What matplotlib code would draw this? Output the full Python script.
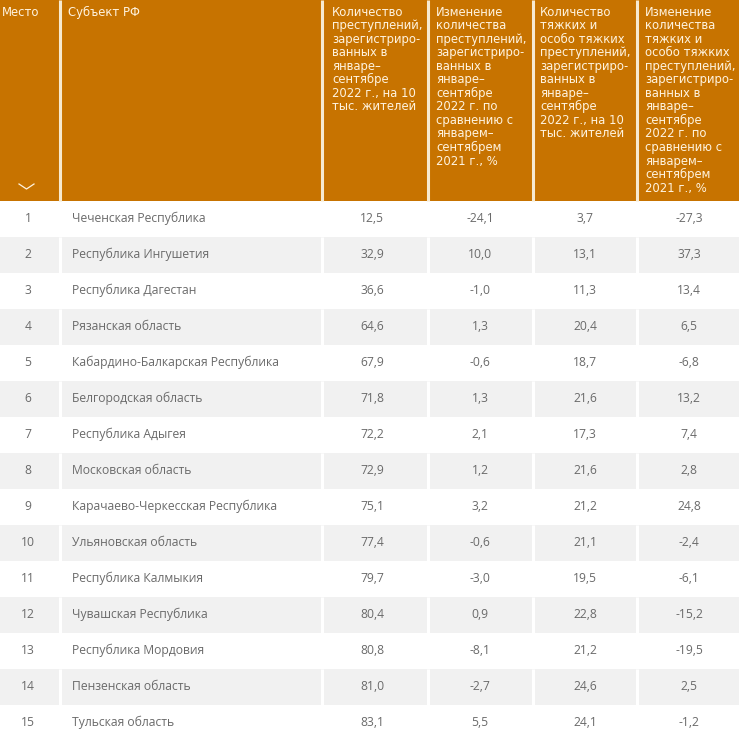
import matplotlib
matplotlib.use("Agg")
import matplotlib.pyplot as plt
from matplotlib.patches import Rectangle

# ---- data ----
ranks = list(range(1, 16))
regions = ["Чеченская Республика", "Республика Ингушетия", "Республика Дагестан",
           "Рязанская область", "Кабардино-Балкарская Республика", "Белгородская область",
           "Республика Адыгея", "Московская область", "Карачаево-Черкесская Республика",
           "Ульяновская область", "Республика Калмыкия", "Чувашская Республика",
           "Республика Мордовия", "Пензенская область", "Тульская область"]
crimes_per_10k = ["12,5", "32,9", "36,6", "64,6", "67,9", "71,8", "72,2", "72,9",
                  "75,1", "77,4", "79,7", "80,4", "80,8", "81,0", "83,1"]
crimes_change = ["-24,1", "10,0", "-1,0", "1,3", "-0,6", "1,3", "2,1", "1,2",
                 "3,2", "-0,6", "-3,0", "0,9", "-8,1", "-2,7", "5,5"]
grave_per_10k = ["3,7", "13,1", "11,3", "20,4", "18,7", "21,6", "17,3", "21,6",
                 "21,2", "21,1", "19,5", "22,8", "21,2", "24,6", "24,1"]
grave_change = ["-27,3", "37,3", "13,4", "6,5", "-6,8", "13,2", "7,4", "2,8",
                "24,8", "-2,4", "-6,1", "-15,2", "-19,5", "2,5", "-1,2"]
headers = [
    ["Место"],
    ["Субъект РФ"],
    ["Количество", "преступлений,", "зарегистриро-", "ванных в", "январе–",
     "сентябре", "2022 г., на 10", "тыс. жителей"],
    ["Изменение", "количества", "преступлений,", "зарегистриро-", "ванных в",
     "январе–", "сентябре", "2022 г. по", "сравнению с", "январем–",
     "сентябрем", "2021 г., %"],
    ["Количество", "тяжких и", "особо тяжких", "преступлений,", "зарегистриро-",
     "ванных в", "январе–", "сентябре", "2022 г., на 10", "тыс. жителей"],
    ["Изменение", "количества", "тяжких и", "особо тяжких", "преступлений,",
     "зарегистриро-", "ванных в", "январе–", "сентябре", "2022 г. по",
     "сравнению с", "январем–", "сентябрем", "2021 г., %"],
]

W, H = 739, 737
fig = plt.figure(figsize=(W / 100, H / 100), dpi=100)
ax = fig.add_axes([0, 0, 1, 1])
ax.set_xlim(0, W)
ax.set_ylim(H, 0)
ax.axis("off")

ORANGE = "#c77300"
HEAD_TXT = "#fff3df"
SEP = "#f7ead0"
GRAY = "#f1f1f1"
TXT = "#6a6a6a"

col_edges = [0, 60, 322, 428, 533, 637, W]
header_h = 201
row_h = 36

# header
ax.add_patch(Rectangle((0, 0), W, header_h, color=ORANGE, lw=0))
for x in col_edges[1:-1]:
    ax.plot([x, x], [0, header_h], color=SEP, lw=2.2, solid_capstyle="butt")

hx = [2, 68, 332, 436, 540, 645]
for ci, lines in enumerate(headers):
    for li, line in enumerate(lines):
        ax.text(hx[ci], 12 + li * 13.55, line, color=HEAD_TXT, fontsize=8.35,
                family="DejaVu Sans", ha="left", va="center")
# chevron
ax.plot([19, 26.5, 34], [184, 189, 184], color=HEAD_TXT, lw=0.9)

# body
centers = [28, None, 372, 480, 585, 689]
for i in range(len(ranks)):
    y0 = header_h + i * row_h
    yc = y0 + row_h / 2 - 1
    if i % 2 == 1:
        ax.add_patch(Rectangle((0, y0), W, row_h, color=GRAY, lw=0))
        for x in col_edges[1:-1]:
            ax.plot([x, x], [y0, y0 + row_h], color="white", lw=2.2,
                    solid_capstyle="butt")
    vals = [str(ranks[i]), regions[i], crimes_per_10k[i], crimes_change[i],
            grave_per_10k[i], grave_change[i]]
    for ci, v in enumerate(vals):
        if ci == 1:
            ax.text(72, yc, v, color=TXT, fontsize=8.7, family="Open Sans",
                    ha="left", va="center")
        else:
            ax.text(centers[ci], yc, v, color=TXT, fontsize=8.7, family="Open Sans",
                    ha="center", va="center")

fig.savefig("out.png", dpi=100)
